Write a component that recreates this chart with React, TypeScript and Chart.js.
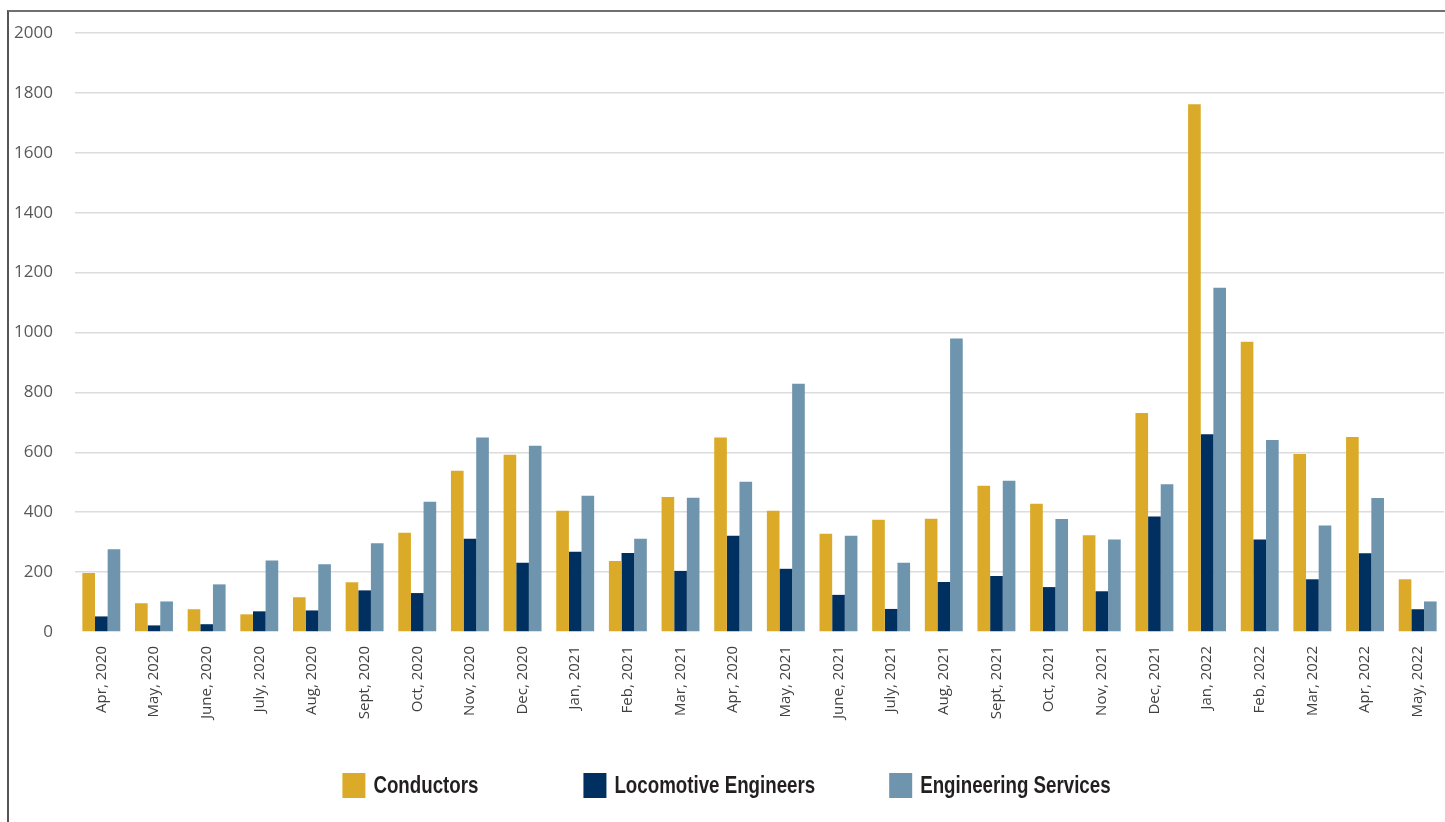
import React, { useEffect, useRef } from "react";
import { Chart, registerables } from "chart.js";

Chart.register(...registerables);

const categories = [
  "Apr, 2020", "May, 2020", "June, 2020", "July, 2020", "Aug, 2020", "Sept, 2020",
  "Oct, 2020", "Nov, 2020", "Dec, 2020", "Jan, 2021", "Feb, 2021", "Mar, 2021",
  "Apr, 2020", "May, 2021", "June, 2021", "July, 2021", "Aug, 2021", "Sept, 2021",
  "Oct, 2021", "Nov, 2021", "Dec, 2021", "Jan, 2022", "Feb, 2022", "Mar, 2022",
  "Apr, 2022", "May, 2022",
];

const conductors = [
  197, 96, 76, 59, 116, 166, 331, 538, 592, 405, 237, 451, 649,
  405, 328, 375, 378, 488, 428, 323, 731, 1762, 969, 594, 651, 176,
];

const locomotiveEngineers = [
  52, 22, 26, 69, 72, 139, 130, 311, 231, 268, 264, 204, 321,
  211, 124, 77, 167, 187, 150, 136, 386, 660, 309, 176, 263, 76,
];

const engineeringServices = [
  276, 102, 159, 239, 226, 296, 435, 649, 622, 455, 311, 448, 502,
  829, 321, 231, 980, 505, 377, 309, 493, 1149, 641, 356, 447, 102,
];

const seriesNames = ["Conductors", "Locomotive Engineers", "Engineering Services"];
const seriesColors = ["#DAAA28", "#00305F", "#6E94AE"];

const yTickMin = 0;
const yTickMax = 2000;
const yTickStep = 200;

// Legend drawn beneath the axis: colour block, then a condensed bold name.
const bottomLegend = {
  id: "bottomLegend",
  afterDraw(chart: any) {
    const ctx = chart.ctx as CanvasRenderingContext2D;
    const boxW = 23;
    const boxH = 25;
    const textGap = 8;
    const itemGaps = [105, 74];
    const squeeze = 0.78;
    const centerY = 773.5;
    ctx.save();
    ctx.font = "bold 24px 'Liberation Sans', Arial, sans-serif";
    ctx.textBaseline = "middle";
    ctx.textAlign = "left";
    const items = chart.data.datasets.map((ds: any) => ({
      label: ds.label as string,
      color: ds.backgroundColor as string,
      w: ctx.measureText(ds.label).width * squeeze,
    }));
    const total =
      items.reduce((s: number, it: any) => s + boxW + textGap + it.w, 0) +
      itemGaps.reduce((s, g) => s + g, 0);
    let x = chart.width / 2 - 5 - total / 2;
    items.forEach((it: any, i: number) => {
      ctx.fillStyle = it.color;
      ctx.fillRect(x, centerY - boxH / 2, boxW, boxH);
      ctx.save();
      ctx.translate(x + boxW + textGap, centerY + 1);
      ctx.scale(squeeze, 1);
      ctx.fillStyle = "#231F20";
      ctx.fillText(it.label, 0, 0);
      ctx.restore();
      x += boxW + textGap + it.w + (itemGaps[i] || 0);
    });
    ctx.restore();
  },
};

export default function App() {
  const canvasRef = useRef<HTMLCanvasElement | null>(null);

  useEffect(() => {
    if (!canvasRef.current) return;
    const chart = new Chart(canvasRef.current, {
      type: "bar",
      data: {
        labels: categories,
        datasets: [
          { label: seriesNames[0], data: conductors, backgroundColor: seriesColors[0] },
          { label: seriesNames[1], data: locomotiveEngineers, backgroundColor: seriesColors[1] },
          { label: seriesNames[2], data: engineeringServices, backgroundColor: seriesColors[2] },
        ],
      },
      options: {
        responsive: false,
        animation: false,
        layout: { padding: { top: 21, right: 10, left: 0, bottom: 0 } },
        datasets: {
          bar: { categoryPercentage: 0.72, barPercentage: 1.0, borderWidth: 0 },
        },
        plugins: {
          legend: { display: false },
          tooltip: { enabled: false },
        },
        scales: {
          x: {
            grid: { display: false, drawTicks: false },
            border: { display: false },
            ticks: {
              minRotation: 90,
              maxRotation: 90,
              autoSkip: false,
              padding: 14,
              color: "#404040",
              font: { family: "'Open Sans', sans-serif", size: 15 },
            },
            afterFit(scale: any) {
              scale.height = 190;
              scale.paddingLeft = 0;
              scale.paddingRight = 0;
              scale.paddingTop = 0;
              scale.paddingBottom = 0;
            },
          },
          y: {
            min: yTickMin,
            max: yTickMax,
            border: { display: false },
            grid: {
              drawTicks: false,
              lineWidth: 1.5,
              color: (c: any) => (c.tick && c.tick.value === 0 ? "rgba(0,0,0,0)" : "#DCDCDC"),
            },
            ticks: {
              stepSize: yTickStep,
              padding: 22,
              color: "#595959",
              font: { family: "'Open Sans', sans-serif", size: 17 },
              callback: (value: any) => String(value),
            },
            afterFit(scale: any) {
              scale.width = 66;
              scale.paddingTop = 0;
              scale.paddingBottom = 0;
            },
          },
        },
      },
      plugins: [bottomLegend],
    });
    return () => chart.destroy();
  }, []);

  return (
    <div style={{ position: "fixed", left: 0, top: 0, width: 1445, height: 822, overflow: "hidden", background: "#fff" }}>
      <div
        style={{
          position: "absolute",
          left: 7,
          top: 10,
          width: 1500,
          height: 900,
          borderTop: "2px solid #707070",
          borderLeft: "2px solid #555555",
        }}
      />
      <canvas
        ref={canvasRef}
        width={1445}
        height={810}
        style={{ position: "absolute", left: 9, top: 12, width: 1445, height: 810 }}
      />
    </div>
  );
}
